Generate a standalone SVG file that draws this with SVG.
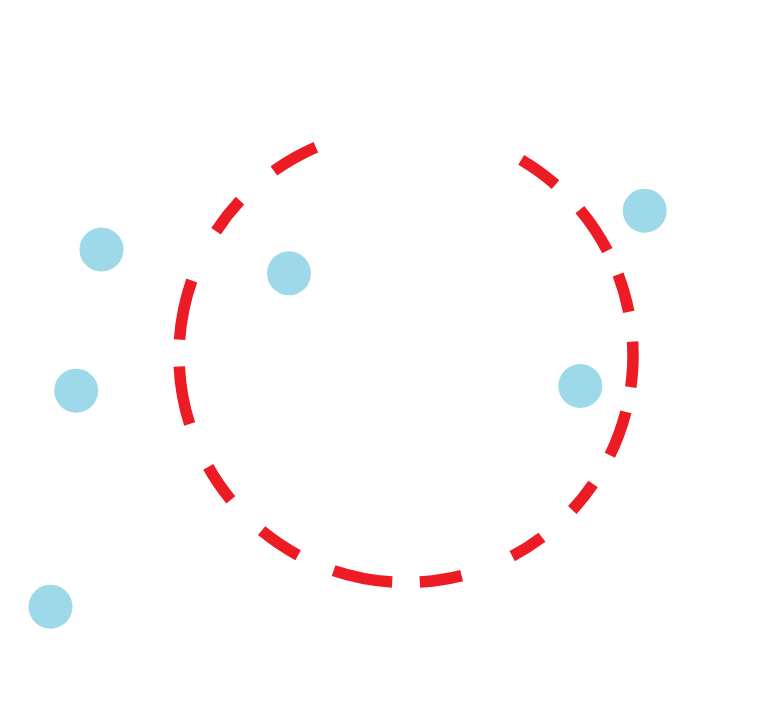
<svg xmlns="http://www.w3.org/2000/svg" width="781" height="721" viewBox="0 0 781 721">
  <style>
    .ring { fill: none; stroke: #ED1C24; stroke-width: 11.5; stroke-linecap: butt; }
    .dot { fill: #9DD9E8; }
  </style>
  <rect x="0" y="0" width="781" height="721" fill="#FFFFFF"/>
  <g id="ring">
    <circle class="ring" cx="406" cy="355.5" r="227" pathLength="360" transform="rotate(273 406 355.5)"
      stroke-dasharray="10.7 8.8 12.5 6.6 9.8 7.6 11.5 6.4 11.7 8.4 8.4 10.3 8.9 13.7 10.7 7.0 15.1 9.8 11.1 11.0 10.1 11.8 14.8 6.8 15.3 13.9 9.8 11.4 12.2 53.9"
      stroke-dashoffset="-27.5"/>
  </g>
  <g id="dots">
    <circle id="dot1" class="dot" cx="101.5" cy="249.5" r="22"/>
    <circle id="dot2" class="dot" cx="289" cy="273.3" r="22"/>
    <circle id="dot3" class="dot" cx="644.7" cy="210.7" r="22"/>
    <circle id="dot4" class="dot" cx="76.2" cy="390.7" r="22"/>
    <circle id="dot5" class="dot" cx="580.3" cy="386" r="22"/>
    <circle id="dot6" class="dot" cx="50.5" cy="606.7" r="22"/>
  </g>
</svg>
